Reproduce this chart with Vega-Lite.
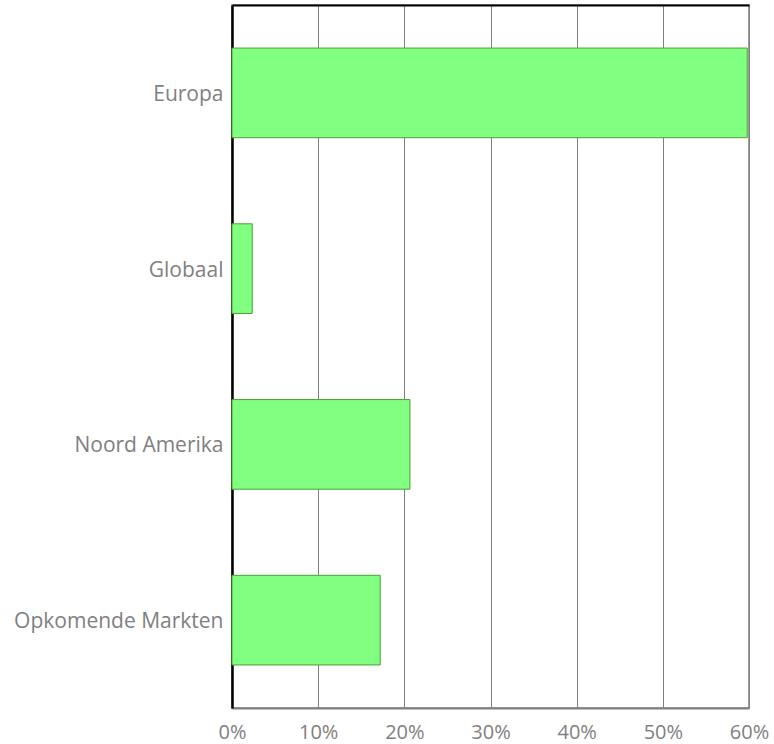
{
  "$schema": "https://vega.github.io/schema/vega-lite/v6.json",
  "width": 517,
  "height": 703,
  "autosize": {"type": "none"},
  "padding": {"left": 232, "top": 5, "right": 24, "bottom": 36},
  "background": "white",
  "config": {
    "view": {"stroke": "#808080", "strokeWidth": 1.5},
    "font": "Open Sans"
  },
  "data": {
    "values": [
      {"regio": "Europa", "aandeel": 0.598},
      {"regio": "Globaal", "aandeel": 0.0235},
      {"regio": "Noord Amerika", "aandeel": 0.2065},
      {"regio": "Opkomende Markten", "aandeel": 0.172}
    ]
  },
  "layer": [
    {
      "mark": {"type": "bar", "fill": "#80FF80", "stroke": "#4f9e34", "strokeWidth": 1},
      "encoding": {
        "y": {
          "field": "regio", "type": "nominal", "sort": null,
          "scale": {"paddingInner": 0.49, "paddingOuter": 0.245},
          "axis": {
            "title": null, "ticks": false, "domainColor": "#000000", "domainWidth": 2.5,
            "labelColor": "#808080", "labelFontSize": 21, "labelPadding": 9, "labelOffset": 2, "labelFont": "Open Sans",
            "labelLimit": 400
          }
        },
        "x": {
          "field": "aandeel", "type": "quantitative",
          "scale": {"domain": [0, 0.6], "nice": false},
          "axis": {
            "title": null, "format": ".0%", "values": [0, 0.1, 0.2, 0.3, 0.4, 0.5, 0.6],
            "ticks": false, "domainColor": "#808080", "domainWidth": 2,
            "gridColor": "#808080", "gridWidth": 1, "gridOpacity": 1,
            "labelColor": "#808080", "labelFontSize": 20, "labelPadding": 14, "labelFont": "Open Sans",
            "labelFlush": false
          }
        }
      }
    },
    {
      "mark": {"type": "bar", "opacity": 0},
      "encoding": {
        "y": {"field": "regio", "type": "nominal", "sort": null, "axis": null},
        "x": {
          "field": "aandeel", "type": "quantitative",
          "axis": {"orient": "top", "title": null, "labels": false, "ticks": false, "grid": false, "domainColor": "#000000", "domainWidth": 2}
        }
      }
    }
  ],
  "resolve": {"axis": {"x": "independent", "y": "independent"}}
}
